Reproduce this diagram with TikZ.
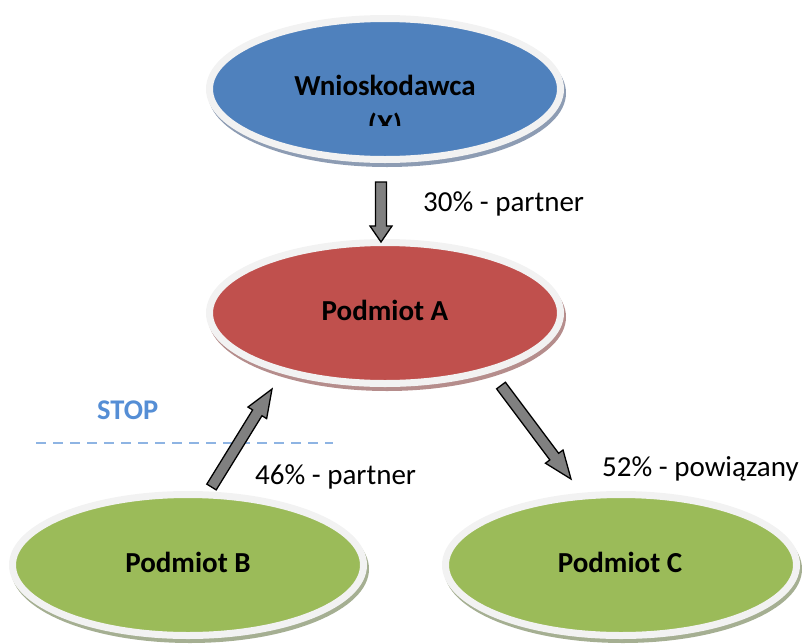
\documentclass[tikz,border=0pt]{standalone}
\usepackage{fontspec}
\setmainfont{Carlito}
\usetikzlibrary{shapes.geometric,calc}
\definecolor{bluefill}{HTML}{4F81BD}
\definecolor{redfill}{HTML}{C0504D}
\definecolor{greenfill}{HTML}{9BBB59}
\definecolor{blueshadow}{HTML}{8D9CB3}
\definecolor{redshadow}{HTML}{B58D8C}
\definecolor{greenshadow}{HTML}{A5AF92}
\definecolor{ringcol}{HTML}{F2F2F2}
\definecolor{arrowgray}{HTML}{808080}
\definecolor{stopblue}{HTML}{558ED5}
\definecolor{dashblue}{HTML}{8EB4E3}
\newcommand\blockarrow[3]{% from #1 to #2, head length #3
  \draw[blockarrow]
    ($(#1)!5.5pt!90:(#2)$)
    -- ($($(#2)!#3!(#1)$)!5.5pt!90:(#2)$)
    -- ($($(#2)!#3!(#1)$)!11pt!90:(#2)$)
    -- (#2)
    -- ($($(#2)!#3!(#1)$)!11pt!-90:(#2)$)
    -- ($($(#2)!#3!(#1)$)!5.5pt!-90:(#2)$)
    -- ($(#1)!5.5pt!-90:(#2)$) -- cycle;}
\begin{document}
\begin{tikzpicture}[x=1pt,y=-1pt,
  bubble/.style={ellipse, draw=ringcol, line width=7pt, inner sep=0pt,
    minimum width=351pt, minimum height=141pt},
  shadowell/.style={x radius=179pt, y radius=74pt},
  nodetext/.style={font=\fontsize{29}{35}\selectfont\bfseries, anchor=base, inner sep=0pt},
  edgelabel/.style={font=\fontsize{29}{35}\selectfont, anchor=base west, inner sep=0pt},
  blockarrow/.style={draw=black, fill=arrowgray, line width=1.3pt, line join=miter},
  stopline/.style={draw=dashblue, line width=2pt, dash pattern=on 10pt off 7pt},
]
\useasboundingbox (0,0) rectangle (803,643);
% shadows
\fill[blueshadow] (387,93) ellipse [shadowell];
\fill[redshadow] (387,317) ellipse [shadowell];
\fill[greenshadow] (190,569) ellipse [shadowell];
\fill[greenshadow] (623,569) ellipse [shadowell];
% ellipses
\node[bubble, fill=bluefill] (X) at (385,89) {};
\node[bubble, fill=redfill] (A) at (385,313) {};
\node[bubble, fill=greenfill] (B) at (188,565) {};
\node[bubble, fill=greenfill] (C) at (621,565) {};
% texts in ellipses
\begin{scope}
  \clip (200,40) rectangle (570,125);
  \node[nodetext] (Xt1) at (385,95) {Wnioskodawca};
  \node[nodetext] (Xt2) at (385,134) {(X)};
\end{scope}
\node[nodetext] (At) at (385,320) {Podmiot A};
\node[nodetext] (Bt) at (188,572) {Podmiot B};
\node[nodetext] (Ct) at (620,572) {Podmiot C};
% STOP line
\coordinate (s1) at (36,443);
\coordinate (s2) at (333,443);
\draw[stopline] (s1) -- (s2);
\node[font=\fontsize{28.5}{34}\selectfont\bfseries, text=stopblue, anchor=base west, inner sep=0pt] (stop) at (97,419) {STOP};
% arrows
\coordinate (xa1) at (381,182);
\coordinate (xa2) at (381,242);
\coordinate (ba1) at (211.5,487);
\coordinate (ba2) at (272,389);
\coordinate (ac1) at (501,385.5);
\coordinate (ac2) at (571,479);
\blockarrow{xa1}{xa2}{16pt}
\blockarrow{ba1}{ba2}{28pt}
\blockarrow{ac1}{ac2}{28pt}
% labels
\node[edgelabel] (l1) at (423,211) {30\% - partner};
\node[edgelabel] (l2) at (255,484) {46\% - partner};
\node[edgelabel] (l3) at (602,476) {52\% - powiązany};
\end{tikzpicture}
\end{document}
